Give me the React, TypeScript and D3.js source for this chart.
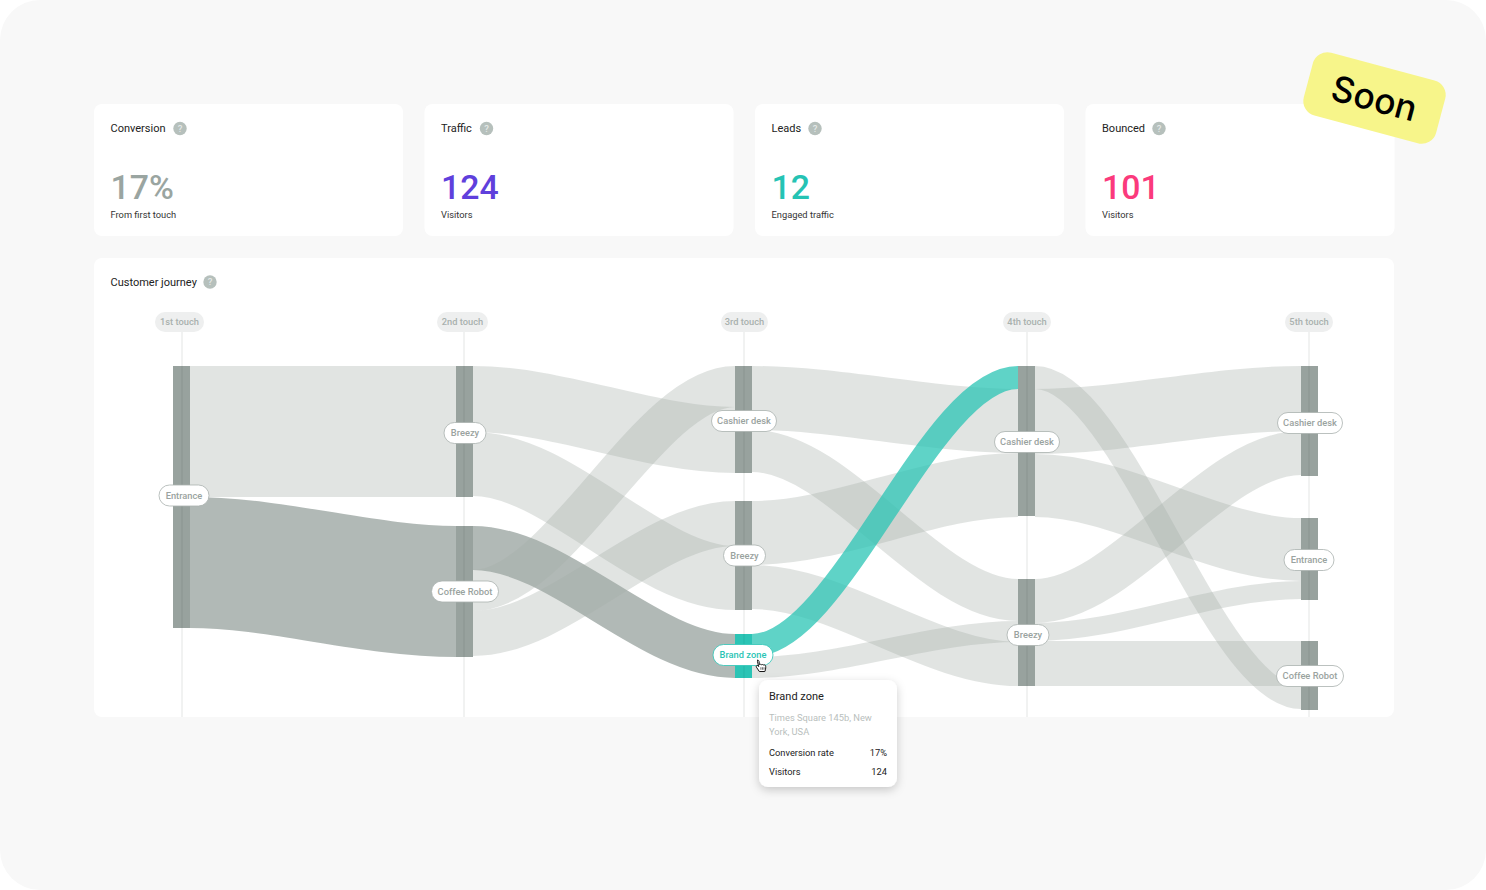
import React from "react";
import * as d3 from "d3";

// ---------- data ----------
const touches = ["1st touch", "2nd touch", "3rd touch", "4th touch", "5th touch"];
const nodeNames = ["Entrance", "Breezy", "Coffee Robot", "Cashier desk", "Breezy", "Brand zone", "Cashier desk", "Breezy", "Cashier desk", "Entrance", "Coffee Robot"];
const nodeColumn = [0, 1, 1, 2, 2, 2, 3, 3, 4, 4, 4];
const nodeVisitors = [262, 131, 131, 107, 109, 44, 150, 107, 110, 82, 69];
const nodeGapBefore = [0, 0, 29, 0, 28, 24, 0, 63, 0, 42, 41];

const linkSource = [0, 0, 1, 1, 2, 2, 2, 3, 3, 4, 4, 5, 5, 6, 6, 6, 7, 7, 7];
const linkTarget = [1, 2, 3, 4, 5, 3, 4, 6, 7, 6, 7, 6, 7, 10, 8, 9, 8, 9, 10];
const linkVisitors = [131, 131, 66, 64, 44, 41, 45, 64, 42, 64, 44, 23, 21, 23, 65, 63, 44, 18, 45];
const linkTargetRank = [0, 0, 1, 1, 0, 0, 0, 1, 0, 2, 2, 0, 1, 1, 0, 0, 1, 1, 0];
const linkTone = ["light", "dark", "light", "light", "dark", "light", "light", "light", "light", "light", "light", "teal", "light", "light", "light", "light", "light", "light", "light"];

const cardTitles = ["Conversion", "Traffic", "Leads", "Bounced"];
const cardValues = ["17%", "124", "12", "101"];
const cardNotes = ["From first touch", "Visitors", "Engaged traffic", "Visitors"];
const cardColors = ["#9aa5a1", "#5f40dc", "#25c3b4", "#fb3a7c"];

const tooltipTitle = "Brand zone";
const tooltipAddress = ["Times Square 145b, New", "York, USA"];
const tooltipRows = [["Conversion rate", "17%"], ["Visitors", "124"]];

// ---------- layout ----------
const W = 1486, H = 890;
const FONT = "Roboto, sans-serif";
const columnX = [173, 456, 735, 1018, 1301];
const nodeW = 17;
const cardX = [94, 424.5, 755, 1085.5];
const cardW = 309;
const titleHelpX = [180, 486.5, 815, 1159];
const labelX = [184, 465, 465, 744, 744.5, 743, 1027, 1028, 1310, 1309, 1310];
const labelY = [495.5, 433, 591.5, 421, 555.5, 655, 442, 635, 423, 560, 676];
const labelW = [50, 42, 67, 65, 42, 60, 65, 42, 65, 50, 67];
const headerCx = [179.5, 462.5, 744.5, 1027, 1309];
const headerW = [49, 51, 47, 48, 48];
const gridX = [182, 464, 744, 1027, 1309];
const CURVE = 0.33;

const TEAL = "#2bc4b5";
const toneStyle: Record<string, { c: string; o: number }> = {
  light: { c: "#a3aca8", o: 0.33 },
  dark: { c: "#98a39f", o: 0.76 },
  teal: { c: "#2ac4b4", o: 0.75 },
};

const y = d3.scaleLinear().domain([0, 344]).range([366, 710]);
const h = (v: number) => y(v) - y(0);
const x = d3.scaleOrdinal<number, number>().domain(d3.range(touches.length)).range(columnX);

// node stacking
const nodeTop: number[] = [];
{
  const cursor = touches.map(() => 0);
  nodeNames.forEach((_, i) => {
    const c = nodeColumn[i];
    cursor[c] += nodeGapBefore[i];
    nodeTop[i] = cursor[c];
    cursor[c] += nodeVisitors[i];
  });
}
// link stacking
const outOffset = nodeNames.map(() => 0);
const linkY0 = linkVisitors.map((v, i) => {
  const s = linkSource[i];
  const r = nodeTop[s] + outOffset[s] + v / 2;
  outOffset[s] += v;
  return r;
});
const linkY1 = linkVisitors.map((v, i) => {
  const t = linkTarget[i];
  const before = d3.sum(linkVisitors.filter((_, j) => linkTarget[j] === t && linkTargetRank[j] < linkTargetRank[i]));
  return nodeTop[t] + before + v / 2;
});
function ribbon(x0: number, y0: number, x1: number, y1: number) {
  const p = d3.path();
  const dx = (x1 - x0) * CURVE;
  p.moveTo(x0, y0);
  p.bezierCurveTo(x0 + dx, y0, x1 - dx, y1, x1, y1);
  return p.toString();
}

function Help({ cx, cy }: { cx: number; cy: number }) {
  return (
    <g>
      <circle cx={cx} cy={cy} r={6.7} fill="#b6c0bc" />
      <text x={cx} y={cy + 3.3} textAnchor="middle" fontSize={9.5} fontWeight={500} fill="#e4e9e7" fontFamily={FONT}>?</text>
    </g>
  );
}

export default function App() {
  return (
    <svg width={W} height={H} viewBox={`0 0 ${W} ${H}`} style={{ position: "absolute", left: 0, top: 0, display: "block" }} fontFamily={FONT}>
      <defs>
        <filter id="tipShadow" x="-30%" y="-30%" width="160%" height="170%">
          <feDropShadow dx="0" dy="3" stdDeviation="5" floodColor="#000" floodOpacity="0.2" />
        </filter>
      </defs>
      <rect width={W} height={H} fill="#fff" />
      <rect width={W} height={H} rx={40} fill="#f8f8f8" />

      {cardTitles.map((t, i) => (
        <g key={t}>
          <rect x={cardX[i]} y={104} width={cardW} height={132} rx={8} fill="#fff" />
          <text x={cardX[i] + 16.5} y={132} fontSize={11} fill="#222">{t}</text>
          <Help cx={titleHelpX[i]} cy={128.5} />
          <text x={cardX[i] + 16.5} y={198.5} fontSize={33.8} fontWeight={500} fill={cardColors[i]}>{cardValues[i]}</text>
          <text x={cardX[i] + 16.5} y={218} fontSize={9.3} fill="#333">{cardNotes[i]}</text>
        </g>
      ))}

      <rect x={94} y={258} width={1300} height={459} rx={8} fill="#fff" />
      <text x={110.5} y={286} fontSize={11} fill="#222">Customer journey</text>
      <Help cx={210} cy={282} />

      {touches.map((t, i) => (
        <g key={t}>
          <line x1={gridX[i]} x2={gridX[i]} y1={331} y2={717} stroke="#e3e5e4" strokeWidth={1} />
          <rect x={headerCx[i] - headerW[i] / 2} y={312} width={headerW[i]} height={20} rx={10} fill="#eeefef" />
          <text x={headerCx[i]} y={325} textAnchor="middle" fontSize={9.3} fontWeight={500} fill="#a9b1ae">{t}</text>
        </g>
      ))}

      {linkVisitors.map((v, i) => {
        const st = toneStyle[linkTone[i]];
        const d = ribbon(x(nodeColumn[linkSource[i]]) + nodeW, y(linkY0[i]), x(nodeColumn[linkTarget[i]]), y(linkY1[i]));
        return <path key={i} d={d} fill="none" stroke={st.c} strokeOpacity={st.o} strokeWidth={h(v)} />;
      })}

      {nodeNames.map((n, i) => {
        const active = n === "Brand zone";
        return (
          <g key={i}>
            <rect x={x(nodeColumn[i])} y={y(nodeTop[i])} width={nodeW} height={h(nodeVisitors[i])} fill={active ? TEAL : "#98a29e"} />
            <line x1={gridX[nodeColumn[i]]} x2={gridX[nodeColumn[i]]} y1={y(nodeTop[i])} y2={y(nodeTop[i] + nodeVisitors[i])} stroke={active ? "#24b5a7" : "#8a9490"} strokeWidth={1} />
          </g>
        );
      })}

      {nodeNames.map((n, i) => {
        const active = n === "Brand zone";
        return (
          <g key={"l" + i}>
            <rect x={labelX[i] - labelW[i] / 2} y={labelY[i] - 10.5} width={labelW[i]} height={21} rx={10.5} fill="#fff" stroke={active ? TEAL : "#a9b1ae"} strokeWidth={0.8} />
            <text x={labelX[i]} y={labelY[i] + 3.3} textAnchor="middle" fontSize={9.3} fontWeight={500} fill={active ? TEAL : "#9aa3a0"}>{n}</text>
          </g>
        );
      })}

      {/* hand cursor */}
      <g transform="translate(755,659.5) scale(0.62)">
        <path d="M3.5 1.5c1.3-.8 2.8 0 3 1.5l.6 5.2c1.2-.7 2.6-.6 3.5.2 1-.5 2.3-.4 3.1.4 1-.4 2.2-.2 2.9.7.7 1 .8 2.6.7 4-.1 2.2-.7 4.2-1.4 5.9H7l-4.7-7c-.6-1-.4-2 .4-2.5.8-.5 1.8-.2 2.4.5l.8 1-1.9-8.2c-.2-.8 0-1.6.5-2.2z" fill="#fff" stroke="#111" strokeWidth={1.6} strokeLinejoin="round" />
        <path d="M9.5 12.5v4M12 12.5v4M14.5 12.5v4" stroke="#111" strokeWidth={1} />
      </g>

      {/* tooltip */}
      <g>
        <rect x={759} y={680} width={138} height={107} rx={9} fill="#fff" filter="url(#tipShadow)" />
        <text x={769} y={700} fontSize={11} fill="#222">{tooltipTitle}</text>
        {tooltipAddress.map((a, i) => (
          <text key={a} x={769} y={720.5 + i * 14} fontSize={9.3} fill="#b9c0bd">{a}</text>
        ))}
        {tooltipRows.map((r, i) => (
          <g key={r[0]} fontSize={9.3} fill="#222">
            <text x={769} y={755.5 + i * 19}>{r[0]}</text>
            <text x={887} y={755.5 + i * 19} textAnchor="end">{r[1]}</text>
          </g>
        ))}
      </g>

      {/* badge */}
      <g transform="translate(1374.5,98) rotate(15)">
        <rect x={-68.5} y={-32.5} width={137} height={65} rx={15} fill="#f7f58a" />
        <text x={0} y={13} textAnchor="middle" fontSize={35.5} fontWeight={500} fontFamily="Inter, sans-serif" fill="#000">Soon</text>
      </g>
    </svg>
  );
}
